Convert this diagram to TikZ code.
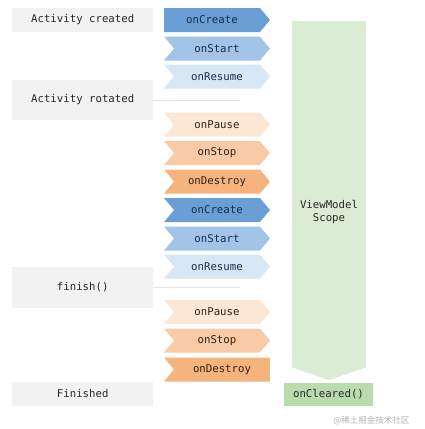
\documentclass[tikz,border=0pt]{standalone}
\usepackage{fontspec}
\setmonofont{DejaVu Sans Mono}
\newfontfamily\cjkfont{Noto Sans CJK SC}
\usetikzlibrary{shapes.symbols,positioning,calc}
\definecolor{eventgray}{HTML}{F2F2F2}
\definecolor{createblue}{HTML}{6A9FD6}
\definecolor{startblue}{HTML}{A2C4E8}
\definecolor{resumeblue}{HTML}{D8E7F6}
\definecolor{pausepeach}{HTML}{FCE7D4}
\definecolor{stoporange}{HTML}{F8CBA6}
\definecolor{destroyorange}{HTML}{F5B47E}
\definecolor{scopegreen}{HTML}{DAEDD4}
\definecolor{clearedgreen}{HTML}{BADCAC}
\definecolor{navytext}{HTML}{1B2A48}
\definecolor{browntext}{HTML}{2E2218}
\definecolor{dividergray}{HTML}{E4E4E4}

\begin{document}
\begin{tikzpicture}[
  x=1pt, y=-1pt,
  font=\ttfamily\fontsize{10.7pt}{12.5pt}\selectfont,
  eventbox/.style={
    fill=eventgray,
    minimum width=141pt,
    inner sep=0pt,
    anchor=west,
    text=black!85
  },
  callback/.style={
    signal,
    signal pointer angle=100,
    minimum width=106pt,
    minimum height=24pt,
    inner sep=0pt,
    signal to=east,
    signal from=west
  },
  firstcb/.style={callback, signal from=nowhere},
  lastcb/.style={callback, signal to=nowhere},
  bluecb/.style={text=navytext},
  orangecb/.style={text=browntext},
  divider/.style={draw=dividergray, line width=0.8pt}
]
  \useasboundingbox (0,0) rectangle (424,429);

  % ---------------------------------------------------------------------------
  % ACTIVITY EVENTS
  % ---------------------------------------------------------------------------
  \node[eventbox, minimum height=24pt] (created) at (12, 20) {Activity created};
  \node[eventbox, minimum height=40pt] (rotated) at (12, 100) {Activity rotated};
  \node[eventbox, minimum height=41pt] (finish) at (12, 287.5) {finish()};
  \node[eventbox, minimum height=24pt] (finished) at (12, 394) {Finished};

  \coordinate (rotatedend) at (240, 100);
  \coordinate (finishend) at (240, 287.5);
  \draw[divider] (rotated.east) -- (rotatedend);
  \draw[divider] (finish.east) -- (finishend);

  % ---------------------------------------------------------------------------
  % LIFECYCLE CALLBACKS
  % ---------------------------------------------------------------------------
  \node[firstcb, bluecb, fill=createblue] (create1) at (212, 20) {onCreate};
  \node[callback, bluecb, fill=startblue] (start1) at (217, 48.5) {onStart};
  \node[callback, bluecb, fill=resumeblue] (resume1) at (217, 76.5) {onResume};

  \node[callback, orangecb, fill=pausepeach] (pause1) at (217, 124.5) {onPause};
  \node[callback, orangecb, fill=stoporange] (stop1) at (217, 153) {onStop};
  \node[callback, orangecb, fill=destroyorange] (destroy1) at (217, 181.5) {onDestroy};
  \node[callback, bluecb, fill=createblue] (create2) at (217, 210) {onCreate};
  \node[callback, bluecb, fill=startblue] (start2) at (217, 238.5) {onStart};
  \node[callback, bluecb, fill=resumeblue] (resume2) at (217, 266.5) {onResume};

  \node[callback, orangecb, fill=pausepeach] (pause2) at (217, 312) {onPause};
  \node[callback, orangecb, fill=stoporange] (stop2) at (217, 340.5) {onStop};
  \node[lastcb, orangecb, fill=destroyorange] (destroy2) at (222, 369.5) {onDestroy};

  % ---------------------------------------------------------------------------
  % VIEWMODEL SCOPE
  % ---------------------------------------------------------------------------
  \node[fill=scopegreen, minimum width=74pt, minimum height=346pt, inner sep=0pt] (scope) at (329, 194) {};
  % Arrow point
  \fill[scopegreen] (scope.south west) -- ($(scope.south) + (0, 13)$) -- (scope.south east) -- cycle;
  \node[align=center, text=black!85] (scopelabel) at (329, 212) {ViewModel\\Scope};
  \node[fill=clearedgreen, minimum width=89pt, minimum height=23pt, inner sep=0pt,
        text=black!85] (cleared) at (328.5, 394.5) {onCleared()};

  \node[font=\cjkfont\fontsize{8.5pt}{10pt}\selectfont, text=black!30, anchor=east] (mark) at (413, 421) {@稀土掘金技术社区};
\end{tikzpicture}
\end{document}
